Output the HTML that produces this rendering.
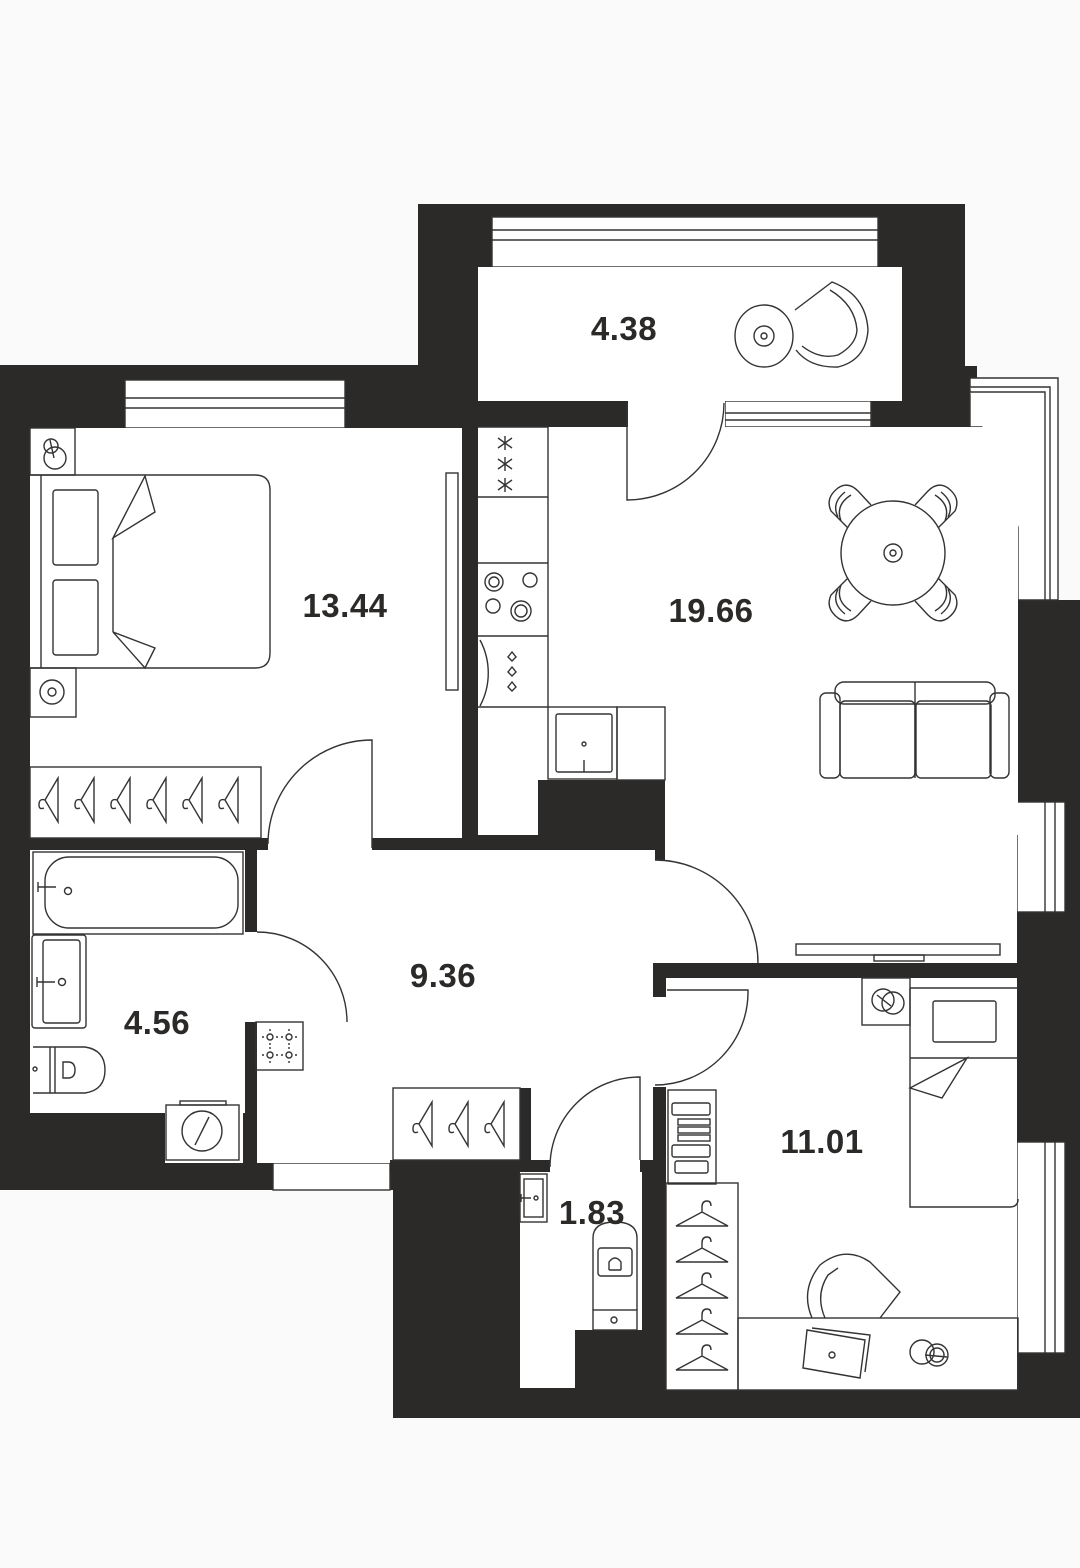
<!DOCTYPE html>
<html><head><meta charset="utf-8"><style>
html,body{margin:0;padding:0;background:#fafafa}
svg{display:block}
text{font-family:"Liberation Sans",sans-serif;font-weight:bold;fill:#2b2a28;font-size:33px;letter-spacing:0.5px}
.f{fill:none;stroke:#333;stroke-width:1.4}
.w{fill:#fff;stroke:#333;stroke-width:1.4}
</style></head><body>
<svg width="1080" height="1568" viewBox="0 0 1080 1568" xmlns="http://www.w3.org/2000/svg">
<rect width="1080" height="1568" fill="#fafafa"/>
<polygon fill="#2b2a28" points="0,365 418,365 418,204 965,204 965,366 977,366 977,378 1080,378 1080,1418 393,1418 393,1190 0,1190"/>
<rect x="1058" y="378" width="22" height="222" fill="#fafafa"/>
<g class="w">
<rect x="125" y="380" width="220" height="48"/>
<line x1="125" y1="398" x2="345" y2="398"/><line x1="125" y1="408" x2="345" y2="408"/>
<rect x="492" y="217" width="386" height="50"/>
<line x1="492" y1="230" x2="878" y2="230"/><line x1="492" y1="240" x2="878" y2="240"/>
<rect x="725" y="401" width="146" height="26"/>
<line x1="725" y1="413" x2="871" y2="413"/><line x1="725" y1="420" x2="871" y2="420"/>
<path d="M970,378 H1058 V600 H1018 V427 H970 Z"/>
<path d="M970,387 H1050 V600 M970,392 H1045 V600"/>
<rect x="1017" y="802" width="48" height="110"/>
<line x1="1045" y1="802" x2="1045" y2="912"/><line x1="1055" y1="802" x2="1055" y2="912"/>
<rect x="1017" y="1142" width="48" height="211"/>
<line x1="1045" y1="1142" x2="1045" y2="1353"/><line x1="1055" y1="1142" x2="1055" y2="1353"/>
<rect x="273" y="1163" width="117" height="27"/>
</g>
<g fill="#fff">
<rect x="30" y="428" width="432" height="410"/>
<rect x="478" y="267" width="424" height="134"/>
<rect x="628" y="400" width="97" height="28"/>
<rect x="478" y="427" width="540" height="408"/>
<rect x="665" y="835" width="352" height="128"/>
<rect x="478" y="780" width="62" height="55"/>
<rect x="268" y="836" width="104" height="16"/>
<rect x="30" y="850" width="215" height="263"/>
<rect x="165" y="1105" width="78" height="58"/>
<rect x="243" y="932" width="16" height="90"/>
<rect x="257" y="850" width="398" height="313"/>
<rect x="653" y="860" width="14" height="103"/>
<rect x="653" y="997" width="14" height="91"/>
<rect x="666" y="978" width="351" height="412"/>
<rect x="520" y="1160" width="122" height="228"/>
<rect x="393" y="1088" width="127" height="72"/>
</g>
<g fill="#2b2a28">
<rect x="538" y="780" width="127" height="70"/>
<rect x="655" y="850" width="10" height="10"/>
<rect x="462" y="428" width="16" height="410"/>
<rect x="520" y="1088" width="11" height="84"/>
<rect x="390" y="1160" width="160" height="12"/>
<rect x="640" y="1160" width="15" height="12"/>
<rect x="653" y="1087" width="13" height="303"/>
<rect x="653" y="963" width="13" height="34"/>
<rect x="575" y="1330" width="67" height="58"/>
<rect x="0" y="1113" width="165" height="50"/>
</g>
<g class="f">
<path d="M627,403 V500 A97,97 0 0 0 724,403"/>
<path d="M372,848 V740 A104,104 0 0 0 268,844"/>
<path d="M257,932 A90,90 0 0 1 347,1022"/>
<path d="M655,860 A103,103 0 0 1 758,963"/>
<path d="M667,990 H748 A93,93 0 0 1 655,1085"/>
<path d="M640,1160 V1077 A90,90 0 0 0 550,1167"/>
</g>
<g class="f">
<rect x="30" y="428" width="45" height="47"/>
<circle cx="55" cy="458" r="11"/><circle cx="51" cy="446" r="7"/><line x1="50" y1="440" x2="54" y2="458"/>
<path d="M30,475 H255 Q270,475 270,490 V653 Q270,668 255,668 H30"/>
<line x1="41" y1="475" x2="41" y2="668"/>
<rect x="53" y="490" width="45" height="75" rx="3"/>
<rect x="53" y="580" width="45" height="75" rx="3"/>
<line x1="113" y1="538" x2="113" y2="632"/>
<path d="M113,538 L145,476 L155,512 Z"/>
<path d="M113,632 L145,668 L155,648 Z"/>
<rect x="30" y="668" width="46" height="49"/>
<circle cx="52" cy="692" r="12"/><circle cx="52" cy="692" r="4"/>
<rect x="30" y="767" width="231" height="71"/>
<rect x="446" y="473" width="12" height="217"/>
</g>
<g class="f" id="hg">
<path d="M58,778 L45,800 L58,822 Z M45,800 q-6,-2 -6,5 q0,5 5,3"/>
</g>
<use href="#hg" x="36"/><use href="#hg" x="72"/><use href="#hg" x="108"/><use href="#hg" x="144"/><use href="#hg" x="180"/>
<g class="f">
<path d="M478,427 H548 V707"/>
<line x1="478" y1="497" x2="548" y2="497"/>
<line x1="478" y1="563" x2="548" y2="563"/>
<line x1="478" y1="636" x2="548" y2="636"/>
<line x1="478" y1="707" x2="548" y2="707"/>
<path d="M498,438 l14,10 M512,438 l-14,10 M505,436 v14 M498,459 l14,10 M512,459 l-14,10 M505,457 v14 M498,480 l14,10 M512,480 l-14,10 M505,478 v14"/>
<circle cx="494" cy="582" r="9"/><circle cx="494" cy="582" r="5"/><circle cx="530" cy="580" r="7"/>
<circle cx="493" cy="606" r="7"/><circle cx="521" cy="611" r="10"/><circle cx="521" cy="611" r="6"/>
<path d="M480,640 A70,70 0 0 1 480,706"/>
<path d="M512,652 l-4,5 4,4 4,-4 z M512,667 l-4,5 4,4 4,-4 z M512,682 l-4,5 4,4 4,-4 z"/>
<rect x="548" y="707" width="69" height="72"/>
<rect x="617" y="707" width="48" height="73"/>
<rect x="556" y="714" width="56" height="58" rx="2"/>
<line x1="584" y1="760" x2="584" y2="772"/><circle cx="584" cy="744" r="2"/>
</g>
<g class="f">
<circle cx="893" cy="553" r="52"/>
<g transform="translate(893,553)">
<g id="ch"><path d="M-45,-25 L-62,-42 Q-68,-55 -55,-65 Q-45,-72 -35,-62 L-22,-48"/><path d="M-55,-36 Q-62,-50 -48,-61 M-52,-32 Q-58,-48 -42,-58"/></g>
<use href="#ch" transform="scale(-1,1)"/><use href="#ch" transform="scale(1,-1)"/><use href="#ch" transform="scale(-1,-1)"/>
<circle r="9"/><circle r="3"/>
</g>
<rect x="820" y="693" width="20" height="85" rx="6"/>
<rect x="990" y="693" width="19" height="85" rx="6"/>
<rect x="835" y="682" width="160" height="22" rx="9"/>
<rect x="840" y="701" width="75" height="77" rx="5"/>
<rect x="916" y="701" width="75" height="77" rx="5"/>
<line x1="915" y1="682" x2="915" y2="778"/>
<rect x="796" y="944" width="204" height="11"/>
<rect x="874" y="955" width="50" height="6"/>
</g>
<g class="f">
<ellipse cx="764" cy="336" rx="29" ry="31"/>
<circle cx="764" cy="336" r="10"/><circle cx="764" cy="336" r="3"/>
<path d="M795,310 L832,282 Q866,295 868,330 Q866,360 838,367 Q810,368 796,350 M802,346 Q820,360 838,355 Q856,345 857,330 Q855,305 830,290"/>
</g>
<g class="f">
<rect x="33" y="852" width="210" height="82"/>
<rect x="45" y="857" width="193" height="71" rx="24"/>
<path d="M38,887 h18 M38,882 v10"/><circle cx="68" cy="891" r="3.5"/>
<rect x="32" y="935" width="54" height="93" rx="3"/>
<rect x="43" y="940" width="37" height="83" rx="3"/>
<path d="M37,982 h18 M37,977 v10"/><circle cx="62" cy="982" r="3.5"/>
<path d="M33,1047 H85 Q105,1050 105,1070 Q105,1090 85,1093 H33"/>
<line x1="50" y1="1047" x2="50" y2="1093"/><line x1="55" y1="1047" x2="55" y2="1093"/>
<path d="M63,1062 v16 h5 q7,0 7,-8 q0,-8 -7,-8 z"/><circle cx="35" cy="1069" r="2"/>
<rect x="166" y="1105" width="73" height="55"/>
<rect x="180" y="1101" width="46" height="4"/>
<circle cx="202" cy="1131" r="20"/><path d="M195,1145 L209,1117"/>
</g>
<g class="f">
<rect x="256" y="1022" width="47" height="48"/>
<g id="lt"><circle cx="270" cy="1037" r="3"/><path d="M264,1037 h-2 M276,1037 h2 M270,1031 v-2 M270,1043 v2"/></g>
<use href="#lt" x="19"/><use href="#lt" y="18"/><use href="#lt" x="19" y="18"/>
<rect x="393" y="1088" width="127" height="72"/>
<use href="#hg" x="374" y="324"/><use href="#hg" x="410" y="324"/><use href="#hg" x="446" y="324"/>
</g>
<g class="f">
<rect x="520" y="1174" width="27" height="48"/>
<rect x="524" y="1179" width="19" height="38"/>
<path d="M521,1198 h10 M521,1194 v8"/><circle cx="536" cy="1198" r="2"/>
<path d="M593,1310 V1238 Q593,1222 615,1222 Q637,1222 637,1238 V1310"/>
<rect x="593" y="1310" width="44" height="20"/>
<rect x="598" y="1248" width="34" height="28" rx="3"/>
<path d="M609,1270 v-8 q6,-8 12,0 v8 M609,1270 h12"/>
<circle cx="614" cy="1320" r="3"/>
</g>
<g class="f">
<rect x="862" y="978" width="48" height="47"/>
<circle cx="883" cy="1000" r="11"/><circle cx="893" cy="1003" r="11"/><line x1="877" y1="995" x2="891" y2="1006"/>
<path d="M910,988 H1018 M910,988 V1207 H1010 Q1018,1207 1018,1199"/>
<rect x="933" y="1001" width="63" height="41" rx="2"/>
<line x1="910" y1="1058" x2="1018" y2="1058"/>
<path d="M910,1088 L967,1058 L942,1098 Z"/>
<rect x="668" y="1090" width="48" height="94"/>
<rect x="672" y="1103" width="38" height="12" rx="2"/>
<rect x="678" y="1119" width="32" height="6"/><rect x="678" y="1127" width="32" height="6"/><rect x="678" y="1135" width="32" height="6"/>
<rect x="672" y="1145" width="38" height="12" rx="2"/>
<rect x="675" y="1161" width="33" height="12" rx="2"/>
<rect x="666" y="1183" width="72" height="207"/>
<rect x="738" y="1318" width="280" height="72"/>
<path d="M812,1318 Q800,1290 820,1265 Q845,1245 870,1262 L900,1292 L880,1318 M825,1318 Q815,1295 828,1275 L838,1268"/>
<path d="M807,1330 L865,1340 L860,1378 L803,1368 Z M812,1328 L870,1335 L865,1372"/>
<circle cx="832" cy="1355" r="3"/>
<circle cx="922" cy="1352" r="12"/><circle cx="937" cy="1355" r="11"/><circle cx="937" cy="1355" r="7"/><line x1="925" y1="1355" x2="947" y2="1357"/>
</g>
<g class="f" id="hh"><path d="M676,1226 L702,1212 L728,1226 Z M702,1212 v-5 q0,-6 5,-6 q4,0 4,5"/></g>
<use href="#hh" y="36"/><use href="#hh" y="72"/><use href="#hh" y="108"/><use href="#hh" y="144"/>
<text x="345" y="617" text-anchor="middle">13.44</text>
<text x="624" y="340" text-anchor="middle">4.38</text>
<text x="711" y="622" text-anchor="middle">19.66</text>
<text x="443" y="987" text-anchor="middle">9.36</text>
<text x="157" y="1034" text-anchor="middle">4.56</text>
<text x="822" y="1153" text-anchor="middle">11.01</text>
<text x="592" y="1224" text-anchor="middle">1.83</text>
</svg>
</body></html>
